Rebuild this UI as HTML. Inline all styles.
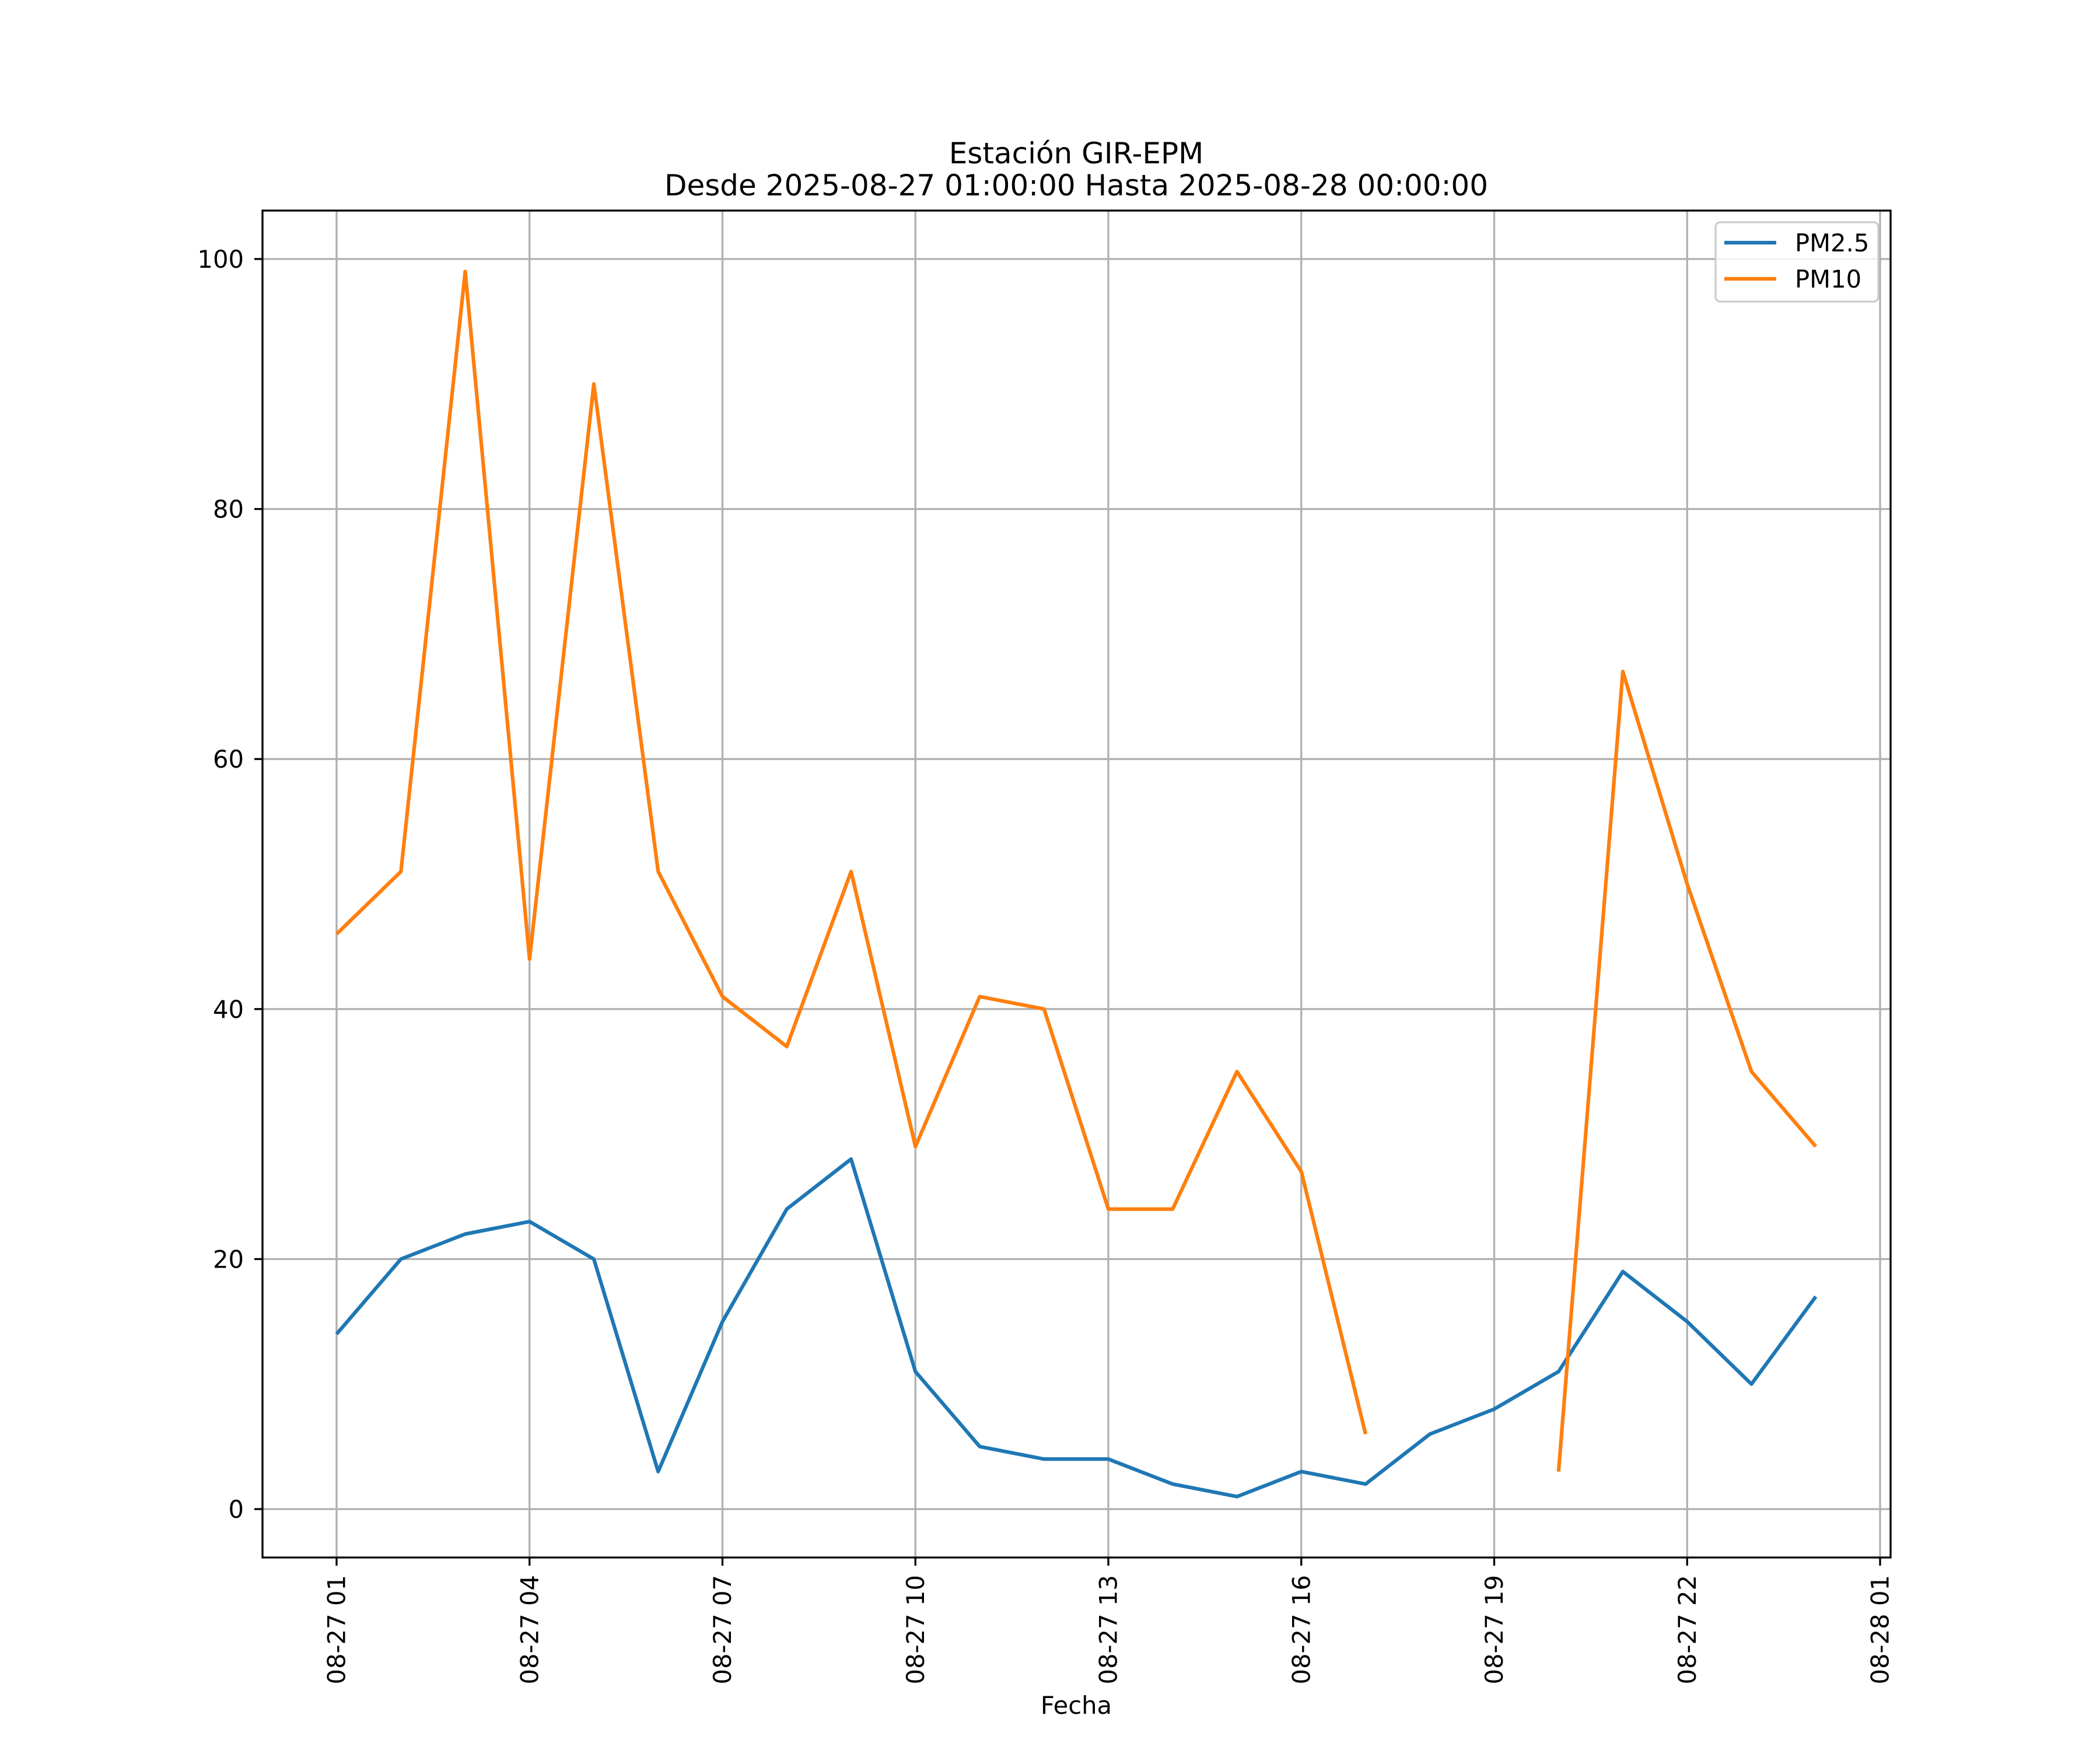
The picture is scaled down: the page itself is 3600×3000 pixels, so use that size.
<!DOCTYPE html>
<html><head><meta charset="utf-8"><style>
html,body{margin:0;padding:0;background:#fff;}
svg{display:block;font-family:"DejaVu Sans","Liberation Sans",sans-serif;}
</style></head><body>
<svg id="chart" width="3600" height="3000" viewBox="0 0 3600 3000">
<rect x="0" y="0" width="3600" height="3000" fill="#fff"/>
<text x="1845" y="280" font-size="50" text-anchor="middle">Estación GIR-EPM</text>
<text x="1845" y="335" font-size="50" text-anchor="middle">Desde 2025-08-27 01:00:00 Hasta 2025-08-28 00:00:00</text>
<g id="grid"></g>
<g id="series"></g>
<rect x="450" y="361" width="2791" height="2309" fill="none" stroke="#000" stroke-width="3.3"/>
<g id="ticks"></g>
<text x="1845" y="2938" font-size="41.7" text-anchor="middle">Fecha</text>
<g>
<rect x="2941" y="381" width="279" height="136" rx="8" fill="#fff" fill-opacity="0.8" stroke="#ccc" stroke-width="3.3"/>
<line x1="2956" y1="416" x2="3045" y2="416" stroke="#1f77b4" stroke-width="6.25"/>
<text x="3077" y="431" font-size="41.7">PM2.5</text>
<line x1="2956" y1="478" x2="3045" y2="478" stroke="#ff7f0e" stroke-width="6.25"/>
<text x="3077" y="493" font-size="41.7">PM10</text>
</g>
</svg>
<script>
const hours = [1,2,3,4,5,6,7,8,9,10,11,12,13,14,15,16,17,18,19,20,21,22,23,24];
const pm25 = [14,20,22,23,20,3,15,24,28,11,5,4,4,2,1,3,2,6,8,11,19,15,10,17];
const pm10 = [46,51,99,44,90,51,41,37,51,29,41,40,24,24,35,27,6,null,null,3,67,50,35,29];
const xTickHours = [1,4,7,10,13,16,19,22,25];
const xTickLabels = ["08-27 01","08-27 04","08-27 07","08-27 10","08-27 13","08-27 16","08-27 19","08-27 22","08-28 01"];
const yTicks = [0,20,40,60,80,100];

const NS = "http://www.w3.org/2000/svg";
function xs(h){ return 577 + (h-1)*(3223-577)/24; }
function ys(v){ return 2587 - v*(2587-444)/100; }
function mk(tag, attrs, parent){
  const e = document.createElementNS(NS, tag);
  for (const k in attrs) e.setAttribute(k, attrs[k]);
  parent.appendChild(e);
  return e;
}
const grid = document.getElementById('grid');
const ticks = document.getElementById('ticks');
const series = document.getElementById('series');

xTickHours.forEach((h,i)=>{
  const x = xs(h);
  const g = mk('line',{x1:x,y1:361,x2:x,y2:2670,stroke:'#b0b0b0','stroke-width':3.3},grid);
  
  
  const t = mk('line',{x1:x,y1:2670,x2:x,y2:2684,stroke:'#000','stroke-width':3.3},ticks);
  
  
  const lb = mk('text',{x:0,y:0,'font-size':41.7,'text-anchor':'end','dominant-baseline':'central',transform:`translate(${x},2700) rotate(-90)`},ticks);
  lb.textContent = xTickLabels[i];
  
  
});
yTicks.forEach(v=>{
  const y = ys(v);
  const g = mk('line',{x1:450,y1:y,x2:3241,y2:y,stroke:'#b0b0b0','stroke-width':3.3},grid);
  
  
  const t = mk('line',{x1:436,y1:y,x2:450,y2:y,stroke:'#000','stroke-width':3.3},ticks);
  
  
  const lb = mk('text',{x:418,y:y+15,'font-size':41.7,'text-anchor':'end'},ticks);
  lb.textContent = String(v);
  
  
});
function drawSeries(vals, color, name){
  let d = '', pen = false;
  vals.forEach((v,i)=>{
    if (v === null) { pen = false; return; }
    d += (pen ? 'L' : 'M') + xs(hours[i]).toFixed(1) + ' ' + ys(v).toFixed(1) + ' ';
    pen = true;
  });
  const p = mk('path',{d:d,fill:'none',stroke:color,'stroke-width':6.25,'stroke-linejoin':'round','stroke-linecap':'butt'},series);
  
  
}
drawSeries(pm25,'#1f77b4','pm25-line');
drawSeries(pm10,'#ff7f0e','pm10-line');
</script>
</body></html>
